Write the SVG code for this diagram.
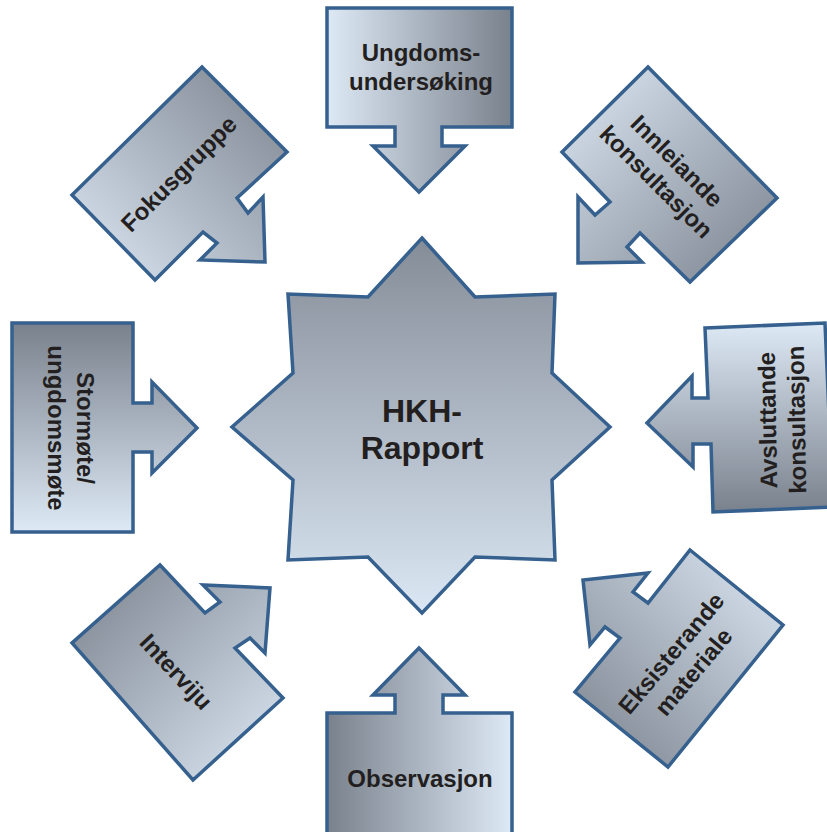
<svg xmlns="http://www.w3.org/2000/svg" xmlns:xlink="http://www.w3.org/1999/xlink" width="827" height="832" viewBox="0 0 827 832">
  <style>
    .box { stroke: #36608e; stroke-width: 3.5; stroke-linejoin: miter; }
    .lbl { font-family: "Liberation Sans", Arial, sans-serif; font-weight: bold; font-size: 24px; fill: #231f20; text-anchor: middle; }
    .big { font-size: 32px; }
  </style>
  <defs>
    <linearGradient id="gTop" x1="0" y1="0" x2="1" y2="0">
      <stop offset="0" stop-color="#dde9f5"/><stop offset="1" stop-color="#79818c"/>
    </linearGradient>
    <linearGradient id="gBottom" x1="1" y1="0" x2="0" y2="0" xlink:href="#gTop"/>
    <linearGradient id="gLeft" x1="0" y1="1" x2="0" y2="0" xlink:href="#gTop"/>
    <linearGradient id="gRight" x1="0" y1="0" x2="0" y2="1" xlink:href="#gTop"/>
    <linearGradient id="gFok" x1="0" y1="1" x2="1" y2="0" xlink:href="#gTop"/>
    <linearGradient id="gInn" x1="0" y1="0" x2="1" y2="1" xlink:href="#gTop"/>
    <linearGradient id="gInt" x1="1" y1="1" x2="0" y2="0" xlink:href="#gTop"/>
    <linearGradient id="gEks" x1="1" y1="0" x2="0" y2="1" xlink:href="#gTop"/>
    <linearGradient id="gStar" x1="0" y1="0" x2="0" y2="1">
      <stop offset="0" stop-color="#848c97"/><stop offset="1" stop-color="#dbe7f4"/>
    </linearGradient>
  </defs>

  <g id="connectors"/>

  <g id="hkh-rapport">
    <polygon class="box" fill="url(#gStar)" points="422,238 475,297 555,294 552,373 610,427 552,480 555,560 475,557 422,613 368,557 288,560 293,480 232,427 293,373 288,294 368,297"/>
    <text class="lbl big" x="422" y="422">HKH-</text>
    <text class="lbl big" x="422" y="459">Rapport</text>
  </g>

  <g id="ungdomsundersoking">
    <polygon class="box" fill="url(#gTop)" points="327,8 512,8 512,127 442,127 442,146 465,146 419,192 373,146 395,146 395,127 327,127"/>
    <text class="lbl" x="421" y="61">Ungdoms-</text>
    <text class="lbl" x="421" y="90">undersøking</text>
  </g>

  <g id="innleiande-konsultasjon">
    <polygon class="box" fill="url(#gInn)" points="648,67 777,198 690,282 640,233 627,247 642,262 578,263 578,197 595,215 610,202 562,152"/>
    <g transform="translate(666,172) rotate(45)">
      <text class="lbl" x="0" y="-7">Innleiande</text>
      <text class="lbl" x="0" y="22">konsultasjon</text>
    </g>
  </g>

  <g id="avsluttande-konsultasjon">
    <polygon class="box" fill="url(#gRight)" points="705,328 825,323 833,507 713,512 711,444 693,444 693,467 647,423 692,376 692,398 708,398"/>
    <g transform="translate(776,420) rotate(-91)">
      <text class="lbl" x="0" y="0">Avsluttande</text>
      <text class="lbl" x="0" y="29">konsultasjon</text>
    </g>
  </g>

  <g id="eksisterande-materiale">
    <polygon class="box" fill="url(#gEks)" points="690,550 783,625 668,767 575,692 620,638 605,627 590,645 583,580 648,573 633,592 648,603"/>
    <g transform="translate(683,663) rotate(-50)">
      <text class="lbl" x="0" y="-7">Eksisterande</text>
      <text class="lbl" x="0" y="22">materiale</text>
    </g>
  </g>

  <g id="observasjon">
    <polygon class="box" fill="url(#gBottom)" points="327,713 395,713 395,695 373,695 419,648 465,695 443,695 443,713 512,713 512,840 327,840"/>
    <text class="lbl" x="420" y="787">Observasjon</text>
  </g>

  <g id="interviju">
    <polygon class="box" fill="url(#gInt)" points="160,565 205,613 220,602 203,585 270,588 265,653 250,638 235,648 283,698 193,780 72,643"/>
    <g transform="translate(176,672) rotate(47)">
      <text class="lbl" x="0" y="8">Interviju</text>
    </g>
  </g>

  <g id="stormote">
    <polygon class="box" fill="url(#gLeft)" points="12,323 133,323 133,403 152,403 152,382 197,428 152,473 152,452 133,452 133,532 12,532"/>
    <g transform="translate(77,428) rotate(90)">
      <text class="lbl" x="0" y="0">Stormøte/</text>
      <text class="lbl" x="0" y="29">ungdomsmøte</text>
    </g>
  </g>

  <g id="fokusgruppe">
    <polygon class="box" fill="url(#gFok)" points="202,67 287,152 237,198 248,213 263,197 265,262 200,260 217,243 203,232 155,280 72,195"/>
    <g transform="translate(179,174) rotate(-45)">
      <text class="lbl" x="0" y="8">Fokusgruppe</text>
    </g>
  </g>
</svg>
